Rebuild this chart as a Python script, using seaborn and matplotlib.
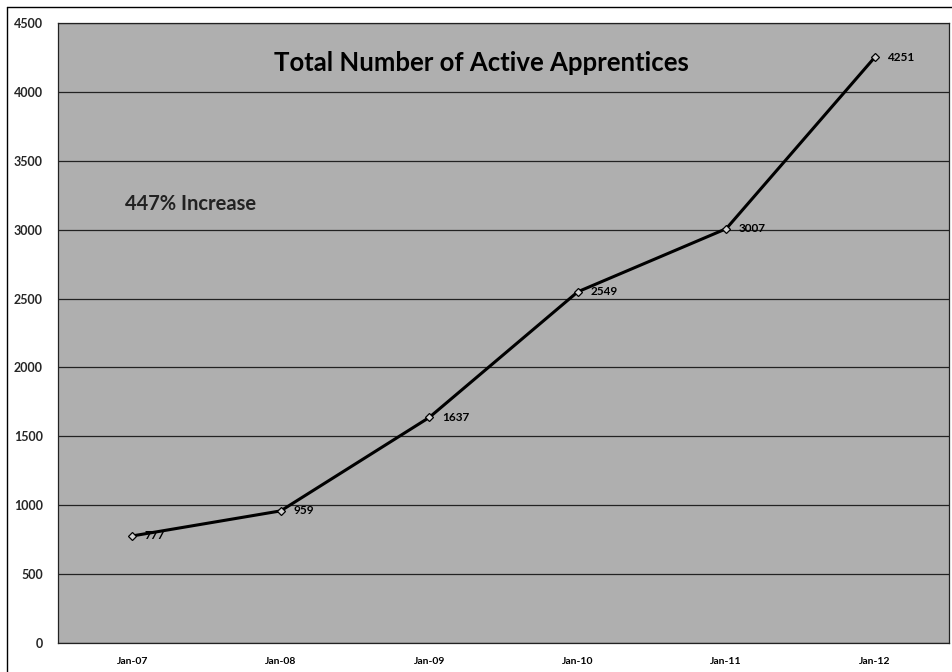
import matplotlib
matplotlib.use("Agg")
import matplotlib.pyplot as plt
import seaborn as sns
import pandas as pd
from matplotlib.lines import Line2D

categories = ["Jan-07", "Jan-08", "Jan-09", "Jan-10", "Jan-11", "Jan-12"]
apprentices = [777, 959, 1637, 2549, 3007, 4251]
y_ticks = [0, 500, 1000, 1500, 2000, 2500, 3000, 3500, 4000, 4500]
title_text = "Total Number of Active Apprentices"
note_text = "447% Increase"

df = pd.DataFrame({"month": categories, "count": apprentices})

sns.set_theme(style="white")
plt.rcParams["font.family"] = ["Lato", "DejaVu Sans"]

fig = plt.figure(figsize=(9.52, 6.72), dpi=100)
fig.patch.set_facecolor("white")
ax = fig.add_axes([58 / 952, 1 - 643 / 672, (949 - 58) / 952, (643 - 23) / 672])
ax.set_facecolor("#afafaf")

sns.lineplot(data=df, x="month", y="count", ax=ax, color="black", linewidth=2.2,
             marker="D", markersize=4, markerfacecolor="#d0d0d0",
             markeredgecolor="black", markeredgewidth=0.9, sort=False)

ax.set_xlim(-0.5, len(categories) - 0.5)
ax.set_ylim(0, 4500)
ax.set_yticks(y_ticks)
ax.set_yticklabels([str(v) for v in y_ticks], fontsize=9, fontweight="bold")
ax.set_xticks(range(len(categories)))
ax.set_xticklabels(categories, fontsize=7.5, fontweight="bold")
ax.set_xticks([i + 0.5 for i in range(-1, len(categories))], minor=True)
ax.tick_params(axis="x", which="major", length=0, pad=10, colors="black")
ax.tick_params(axis="x", which="minor", length=5, width=0.8, direction="out", color="black")
ax.tick_params(axis="y", which="major", length=5, width=0.8, direction="out", color="black", pad=6)
ax.set_xlabel("")
ax.set_ylabel("")

ax.yaxis.grid(True, color="#222222", linewidth=0.9)
ax.xaxis.grid(False)
ax.set_axisbelow(True)
for s in ax.spines.values():
    s.set_color("#222222")
    s.set_linewidth(0.9)

for i, v in enumerate(apprentices):
    ax.annotate(str(v), (i, v), xytext=(9, 0), textcoords="offset points",
                ha="left", va="center", fontsize=8.5, fontweight="bold", color="black")

ax.text(2.35, 4210, title_text, ha="center", va="center", fontsize=18.5,
        fontweight="bold", color="black")
ax.text(-0.047, 3186, note_text, ha="left", va="center", fontsize=14.5,
        fontweight="bold", color="#222222")

# outer chart border (left & top visible)
fig.add_artist(Line2D([7 / 952, 7 / 952], [0, 1 - 7 / 672], transform=fig.transFigure,
                      color="black", linewidth=1))
fig.add_artist(Line2D([7 / 952, 1], [1 - 7 / 672, 1 - 7 / 672], transform=fig.transFigure,
                      color="black", linewidth=1))

fig.savefig("out.png", dpi=100)
